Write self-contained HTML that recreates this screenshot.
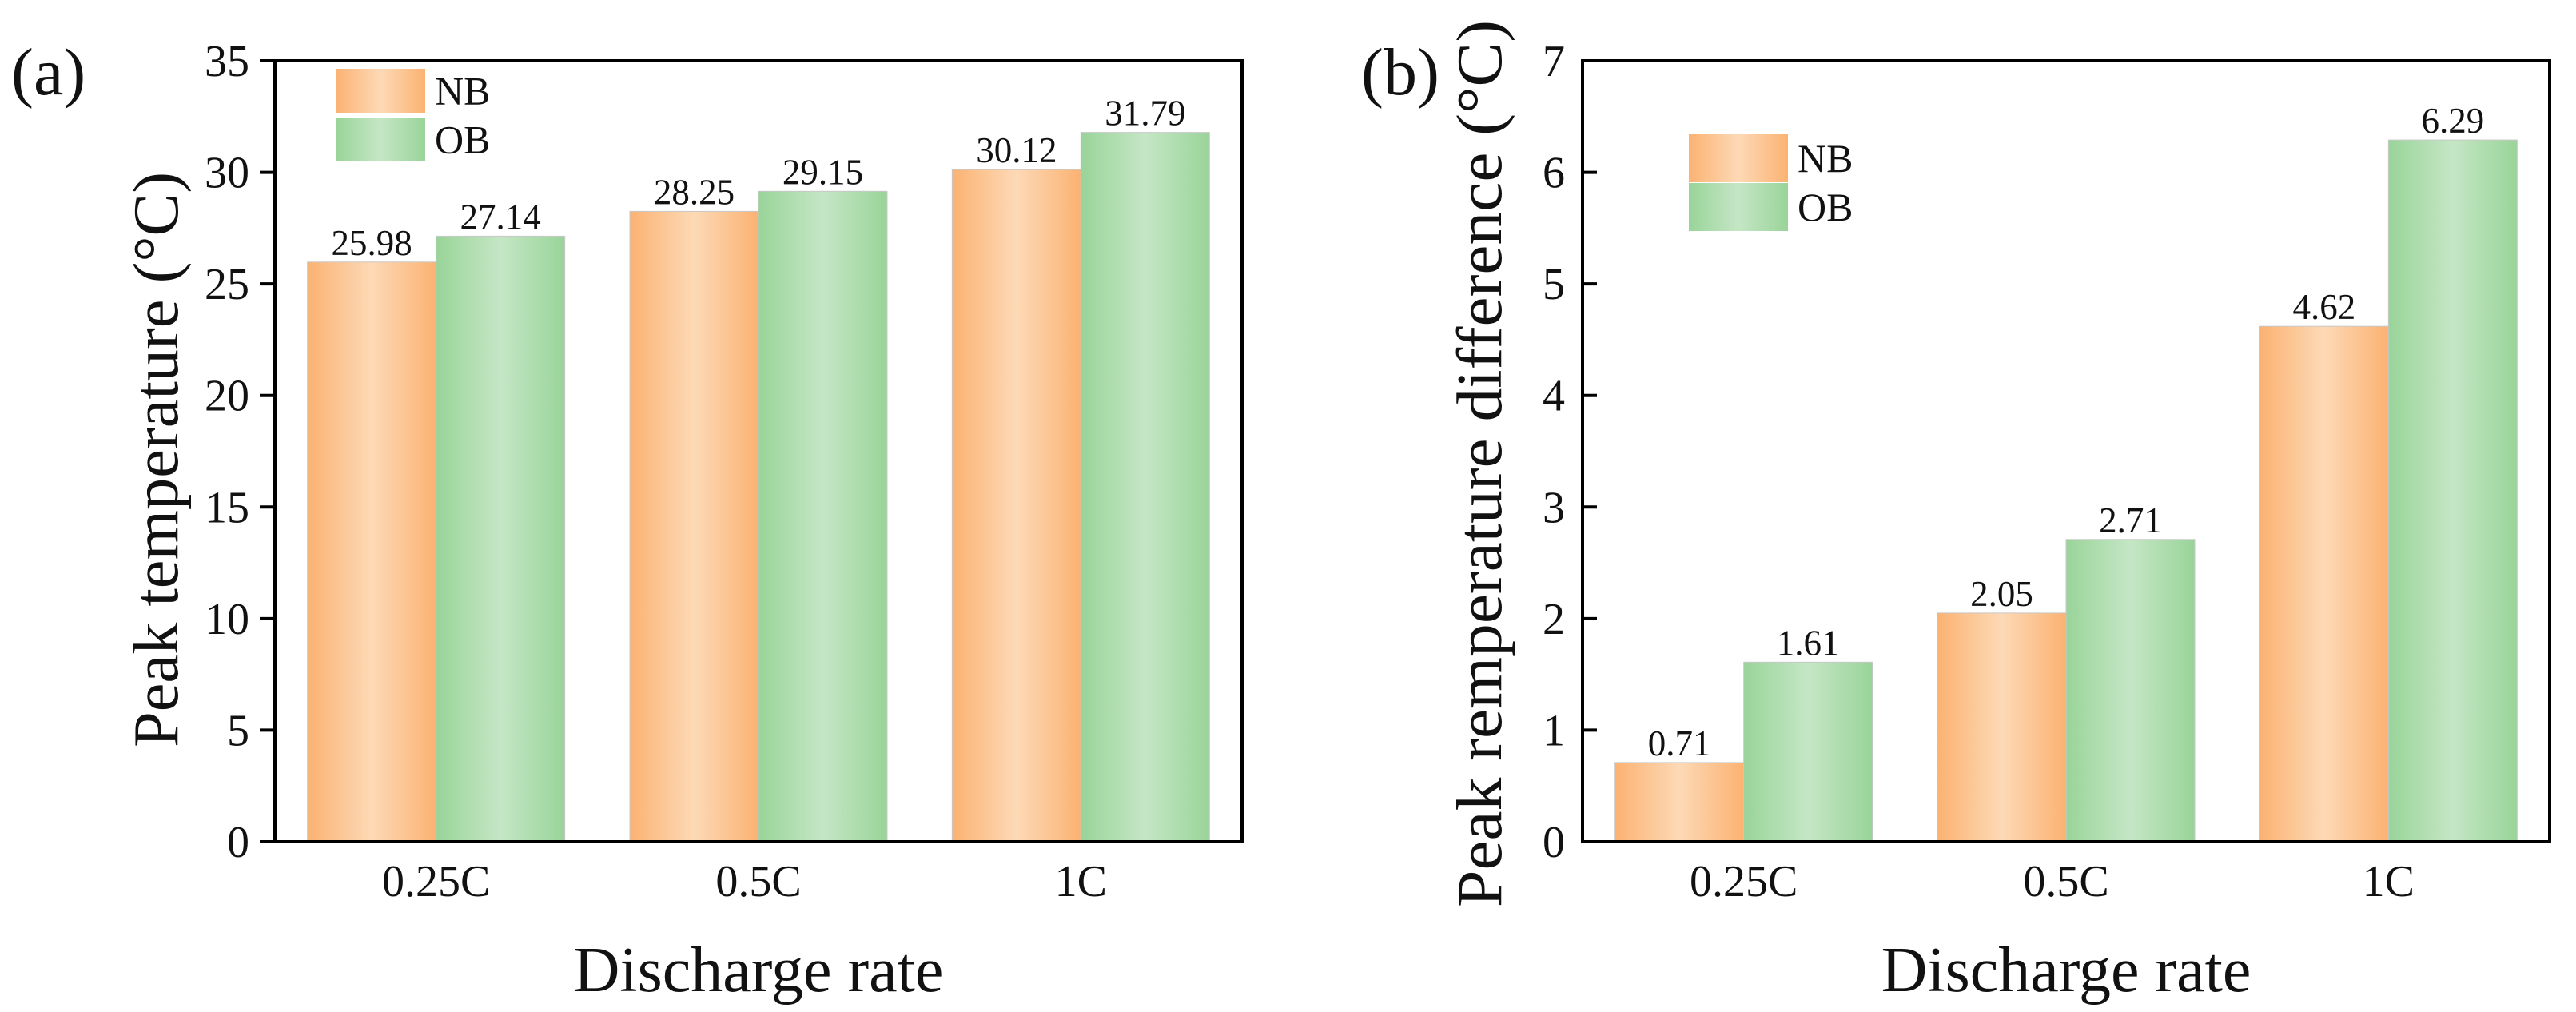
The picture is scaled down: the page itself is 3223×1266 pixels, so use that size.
<!DOCTYPE html>
<html><head><meta charset="utf-8"><style>
html,body{margin:0;padding:0;background:#fff;}
svg{display:block;font-family:"Liberation Serif",serif;}
</style></head><body>
<svg id="fig" width="3223" height="1266" viewBox="0 0 3223 1266" xmlns="http://www.w3.org/2000/svg">
<defs>
<linearGradient id="gNB" x1="0" x2="1" y1="0" y2="0">
<stop offset="0" stop-color="#FBB272"/><stop offset="0.5" stop-color="#FDD9B6"/><stop offset="1" stop-color="#FBB272"/>
</linearGradient>
<linearGradient id="gOB" x1="0" x2="1" y1="0" y2="0">
<stop offset="0" stop-color="#99D499"/><stop offset="0.5" stop-color="#C5E6C5"/><stop offset="1" stop-color="#99D499"/>
</linearGradient>
</defs>
<g id="panelA"></g>
<g id="panelB"></g>
</svg>
<script>
const categories = ["0.25C", "0.5C", "1C"];
const seriesNames = ["NB", "OB"];
const aNB = [25.98, 28.25, 30.12];
const aOB = [27.14, 29.15, 31.79];
const bNB = [0.71, 2.05, 4.62];
const bOB = [1.61, 2.71, 6.29];
const aTicks = [0, 5, 10, 15, 20, 25, 30, 35];
const bTicks = [0, 1, 2, 3, 4, 5, 6, 7];

const NS = "http://www.w3.org/2000/svg";
function mk(parent, tag, attrs, text) {
  const e = document.createElementNS(NS, tag);
  for (const k in attrs) e.setAttribute(k, attrs[k]);
  if (text !== undefined) e.textContent = text;
  parent.appendChild(e);
  return e;
}

function drawPanel(g, opt) {
  const L = opt.left, R = opt.left + 1210, T = 76, B = 1053;
  const yMax = opt.ticks[opt.ticks.length - 1];
  const y = v => B - (v / yMax) * (B - T);
  const groupW = (R - L) / categories.length;
  const barW = 161;
  const x = i => L + groupW * (i + 0.5);

  const series = [opt.nb, opt.ob];
  const fills = ["url(#gNB)", "url(#gOB)"];
  series.forEach((vals, s) => {
    vals.forEach((v, i) => {
      const bx = x(i) - barW + s * barW;
      const r = mk(g, "rect", {x: bx, y: y(v), width: barW, height: B - y(v), fill: fills[s], stroke: "#c8c8c8", "stroke-width": 1});
      
      
      const t = mk(g, "text", {x: bx + barW / 2, y: y(v) - 9, "font-size": 45, "text-anchor": "middle", fill: "#111"}, v.toFixed(2));
      
      
    });
  });

  const frame = mk(g, "rect", {x: L, y: T, width: R - L, height: B - T, fill: "none", stroke: "#000", "stroke-width": 4});
  
  

  opt.ticks.forEach(tv => {
    const ty = y(tv);
    const x2 = opt.inward ? L + 18 : L - 19;
    const tk = mk(g, "line", {x1: L, x2: x2, y1: ty, y2: ty, stroke: "#000", "stroke-width": 4});
    
    
    const tl = mk(g, "text", {x: opt.tickLabelX, y: ty + 19, "font-size": 56, "text-anchor": "end", fill: "#111"}, String(tv));
    
    
  });

  categories.forEach((c, i) => {
    const cl = mk(g, "text", {x: x(i), y: 1121, "font-size": 56, "text-anchor": "middle", fill: "#111"}, c);
    
    
  });

  const xt = mk(g, "text", {x: (L + R) / 2, y: 1240, "font-size": 80, "text-anchor": "middle", fill: "#111"}, "Discharge rate");
  
  

  const yt = mk(g, "text", {x: 0, y: 0, "font-size": 80, "text-anchor": "middle", fill: "#111", transform: "translate(" + opt.ytX + "," + opt.ytY + ") rotate(-90)", textLength: opt.ytLen, lengthAdjust: "spacingAndGlyphs"}, opt.yTitle);
  
  

  const pl = mk(g, "text", {x: opt.labelX, y: 118, "font-size": 84, fill: "#111"}, opt.label);
  
  

  const lg = mk(g, "g", {});
  
  
  seriesNames.forEach((n, s) => {
    const ly = opt.legY + s * 61;
    const sw = mk(lg, "rect", {x: opt.legX, y: ly, width: opt.legW, height: opt.legH, fill: fills[s]});
    
    
    const lt = mk(lg, "text", {x: opt.legX + opt.legW + 12, y: ly + opt.legH / 2 + 17, "font-size": 50, fill: "#111"}, n);
    
    
  });
}

drawPanel(document.getElementById("panelA"), {
  left: 344, nb: aNB, ob: aOB, ticks: aTicks, inward: false, tickLabelX: 312,
  yTitle: "Peak temperature (\u00B0C)", ytX: 222, ytY: 575, ytLen: 720,
  label: "(a)", labelX: 14, legX: 420, legY: 86, legW: 112, legH: 55
});
drawPanel(document.getElementById("panelB"), {
  left: 1980, nb: bNB, ob: bOB, ticks: bTicks, inward: true, tickLabelX: 1958,
  yTitle: "Peak remperature difference (\u00B0C)", ytX: 1878, ytY: 580, ytLen: 1110,
  label: "(b)", labelX: 1703, legX: 2113, legY: 168, legW: 124, legH: 60
});
</script>
</body></html>
